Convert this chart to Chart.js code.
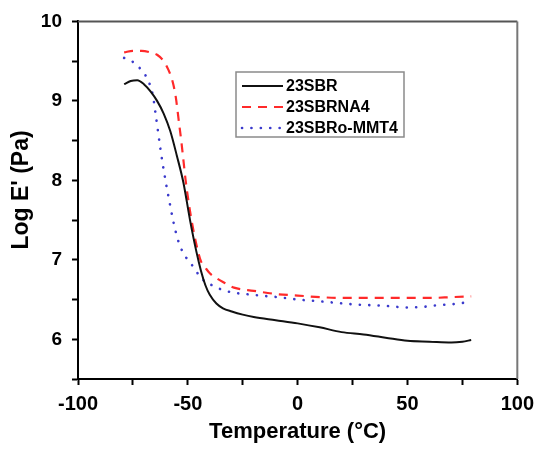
<!DOCTYPE html>
<html>
<head>
<meta charset="utf-8">
<script src="https://cdn.jsdelivr.net/npm/chart.js@4/dist/chart.umd.min.js"></script>
<style>
html,body{margin:0;padding:0;background:#fff;}
#wrap{width:541px;height:450px;position:relative;}
</style>
</head>
<body>
<div id="wrap"><canvas id="c" width="541" height="450"></canvas></div>
<script>
// Series names
const seriesNames = ['23SBR', '23SBRNA4', '23SBRo-MMT4'];

// 23SBR
const tempSBR = [-79,-76,-73,-70,-67,-64,-61,-58,-55,-52,-49,-46,-44,-42,-40,-37,-34,-30,-25,-20,-10,0,10,20,30,40,50,60,70,75,79];
const logSBR  = [9.21,9.25,9.26,9.21,9.12,9.00,8.84,8.62,8.31,7.97,7.50,7.09,6.86,6.68,6.56,6.45,6.39,6.35,6.31,6.28,6.24,6.20,6.15,6.09,6.06,6.02,5.98,5.97,5.96,5.97,5.99];

// 23SBRNA4
const tempNA4 = [-79,-75,-71,-67,-64,-61,-59,-57,-55.5,-54,-53,-52,-51,-49.5,-48,-46,-44,-42,-40,-37,-34,-29,-20,-10,0,10,20,30,45,60,70,79];
const logNA4  = [9.61,9.63,9.63,9.61,9.58,9.50,9.40,9.25,9.05,8.72,8.50,8.25,8.00,7.70,7.45,7.18,6.98,6.90,6.83,6.77,6.72,6.65,6.61,6.57,6.55,6.53,6.52,6.52,6.52,6.52,6.53,6.54];

// 23SBRo-MMT4
const tempMMT = [-79,-75,-71.5,-68.5,-66,-64.5,-62.5,-60.5,-58.5,-56.5,-54.5,-52,-50,-48,-45,-42,-39,-35,-30,-24,-17,-9,0,9,17,25,32,40,50,58,64,70,77,79];
const logMMT  = [9.54,9.49,9.40,9.28,9.08,8.80,8.40,8.05,7.75,7.47,7.25,7.08,7.00,6.93,6.81,6.72,6.68,6.63,6.59,6.57,6.55,6.53,6.50,6.48,6.46,6.44,6.43,6.42,6.40,6.41,6.43,6.44,6.46,6.46];

// Axis ticks
const xTickLabels = [-100, -50, 0, 50, 100];
const yTickLabels = [6, 7, 8, 9, 10];

const xTitle = 'Temperature (°C)';
const yTitle = "Log E' (Pa)";

function pts(xs, ys){ return xs.map((x,i)=>({x:x, y:ys[i]})); }

const FONT = "'Liberation Sans', Arial, sans-serif";

const frame = {
  id:'frame',
  afterDatasetsDraw(chart){
    const {ctx, chartArea:a} = chart;
    ctx.save();
    ctx.lineWidth = 2;
    ctx.strokeStyle = '#555';
    ctx.beginPath(); ctx.moveTo(a.left, a.top); ctx.lineTo(a.right, a.top); ctx.stroke();
    ctx.strokeStyle = '#777';
    ctx.beginPath(); ctx.moveTo(a.right, a.top); ctx.lineTo(a.right, a.bottom); ctx.stroke();
    ctx.restore();
  }
};

const yTitlePlugin = {
  id:'yTitlePlugin',
  afterDraw(chart){
    const {ctx} = chart;
    ctx.save();
    ctx.translate(22, 190);
    ctx.rotate(-Math.PI/2);
    ctx.fillStyle = '#000';
    ctx.font = "bold 23px " + FONT;
    ctx.textAlign = 'center';
    ctx.textBaseline = 'middle';
    ctx.fillText(yTitle, 0, 0);
    ctx.restore();
  }
};

const boxLegend = {
  id:'boxLegend',
  afterDraw(chart){
    const {ctx} = chart;
    const bx = 236, by = 72, bw = 168, bh = 65;
    ctx.save();
    ctx.fillStyle = '#fff';
    ctx.fillRect(bx, by, bw, bh);
    ctx.strokeStyle = '#8a8a8a';
    ctx.lineWidth = 1.5;
    ctx.strokeRect(bx, by, bw, bh);
    chart.data.datasets.forEach((ds, i) => {
      const y = by + 14 + i * 21;
      ctx.beginPath();
      ctx.setLineDash(ds.borderDash || []);
      ctx.lineCap = ds.borderCapStyle || 'butt';
      ctx.strokeStyle = ds.borderColor;
      ctx.lineWidth = ds.borderWidth;
      ctx.moveTo(242, y); ctx.lineTo(283, y);
      ctx.stroke();
      ctx.setLineDash([]);
      ctx.fillStyle = '#000';
      ctx.font = "bold 16px " + FONT;
      ctx.textBaseline = 'middle';
      ctx.textAlign = 'left';
      ctx.fillText(ds.label, 286, y + 1);
    });
    ctx.restore();
  }
};

new Chart(document.getElementById('c'), {
  type: 'line',
  data: {
    datasets: [
      { label: seriesNames[0], data: pts(tempSBR, logSBR), borderColor:'#111', borderWidth:2, pointRadius:0, cubicInterpolationMode:'monotone', fill:false },
      { label: seriesNames[1], data: pts(tempNA4, logNA4), borderColor:'#ff2a2a', borderWidth:2.2, borderDash:[9,7], pointRadius:0, cubicInterpolationMode:'monotone', fill:false },
      { label: seriesNames[2], data: pts(tempMMT, logMMT), borderColor:'#3a3acc', borderWidth:2.6, borderDash:[0.1,9.3], borderCapStyle:'round', pointRadius:0, cubicInterpolationMode:'monotone', fill:false }
    ]
  },
  options: {
    responsive:false,
    animation:false,
    devicePixelRatio:1,
    layout:{ padding:{ top:19, right:18, left:0, bottom:0 } },
    plugins:{ legend:{display:false}, tooltip:{enabled:false} },
    scales:{
      x:{
        type:'linear', min:-100, max:100,
        afterFit(s){ s.height = 71; },
        ticks:{ stepSize:25, autoSkip:false, maxRotation:0, color:'#000', padding:7,
          font:{ family:FONT, size:20, weight:'bold' },
          callback:(v)=> xTickLabels.includes(v) ? String(v) : '' },
        grid:{ drawOnChartArea:false, drawTicks:true, tickLength:6, tickColor:'#000', tickWidth:2 },
        border:{ display:true, color:'#000', width:2 },
        title:{ display:true, text:xTitle, color:'#000', padding:{top:0,bottom:5},
          font:{ family:FONT, size:22, weight:'bold' } }
      },
      y:{
        type:'linear', min:5.5, max:10,
        afterFit(s){ s.width = 78; },
        ticks:{ stepSize:0.5, autoSkip:false, color:'#000', padding:10,
          font:{ family:FONT, size:19, weight:'bold' },
          callback:(v)=> yTickLabels.includes(v) ? String(v) : '' },
        grid:{ drawOnChartArea:false, drawTicks:true, tickLength:6, tickColor:'#000', tickWidth:2 },
        border:{ display:true, color:'#000', width:2 },
        title:{ display:false }
      }
    }
  },
  plugins:[frame, yTitlePlugin, boxLegend]
});
</script>
</body>
</html>
